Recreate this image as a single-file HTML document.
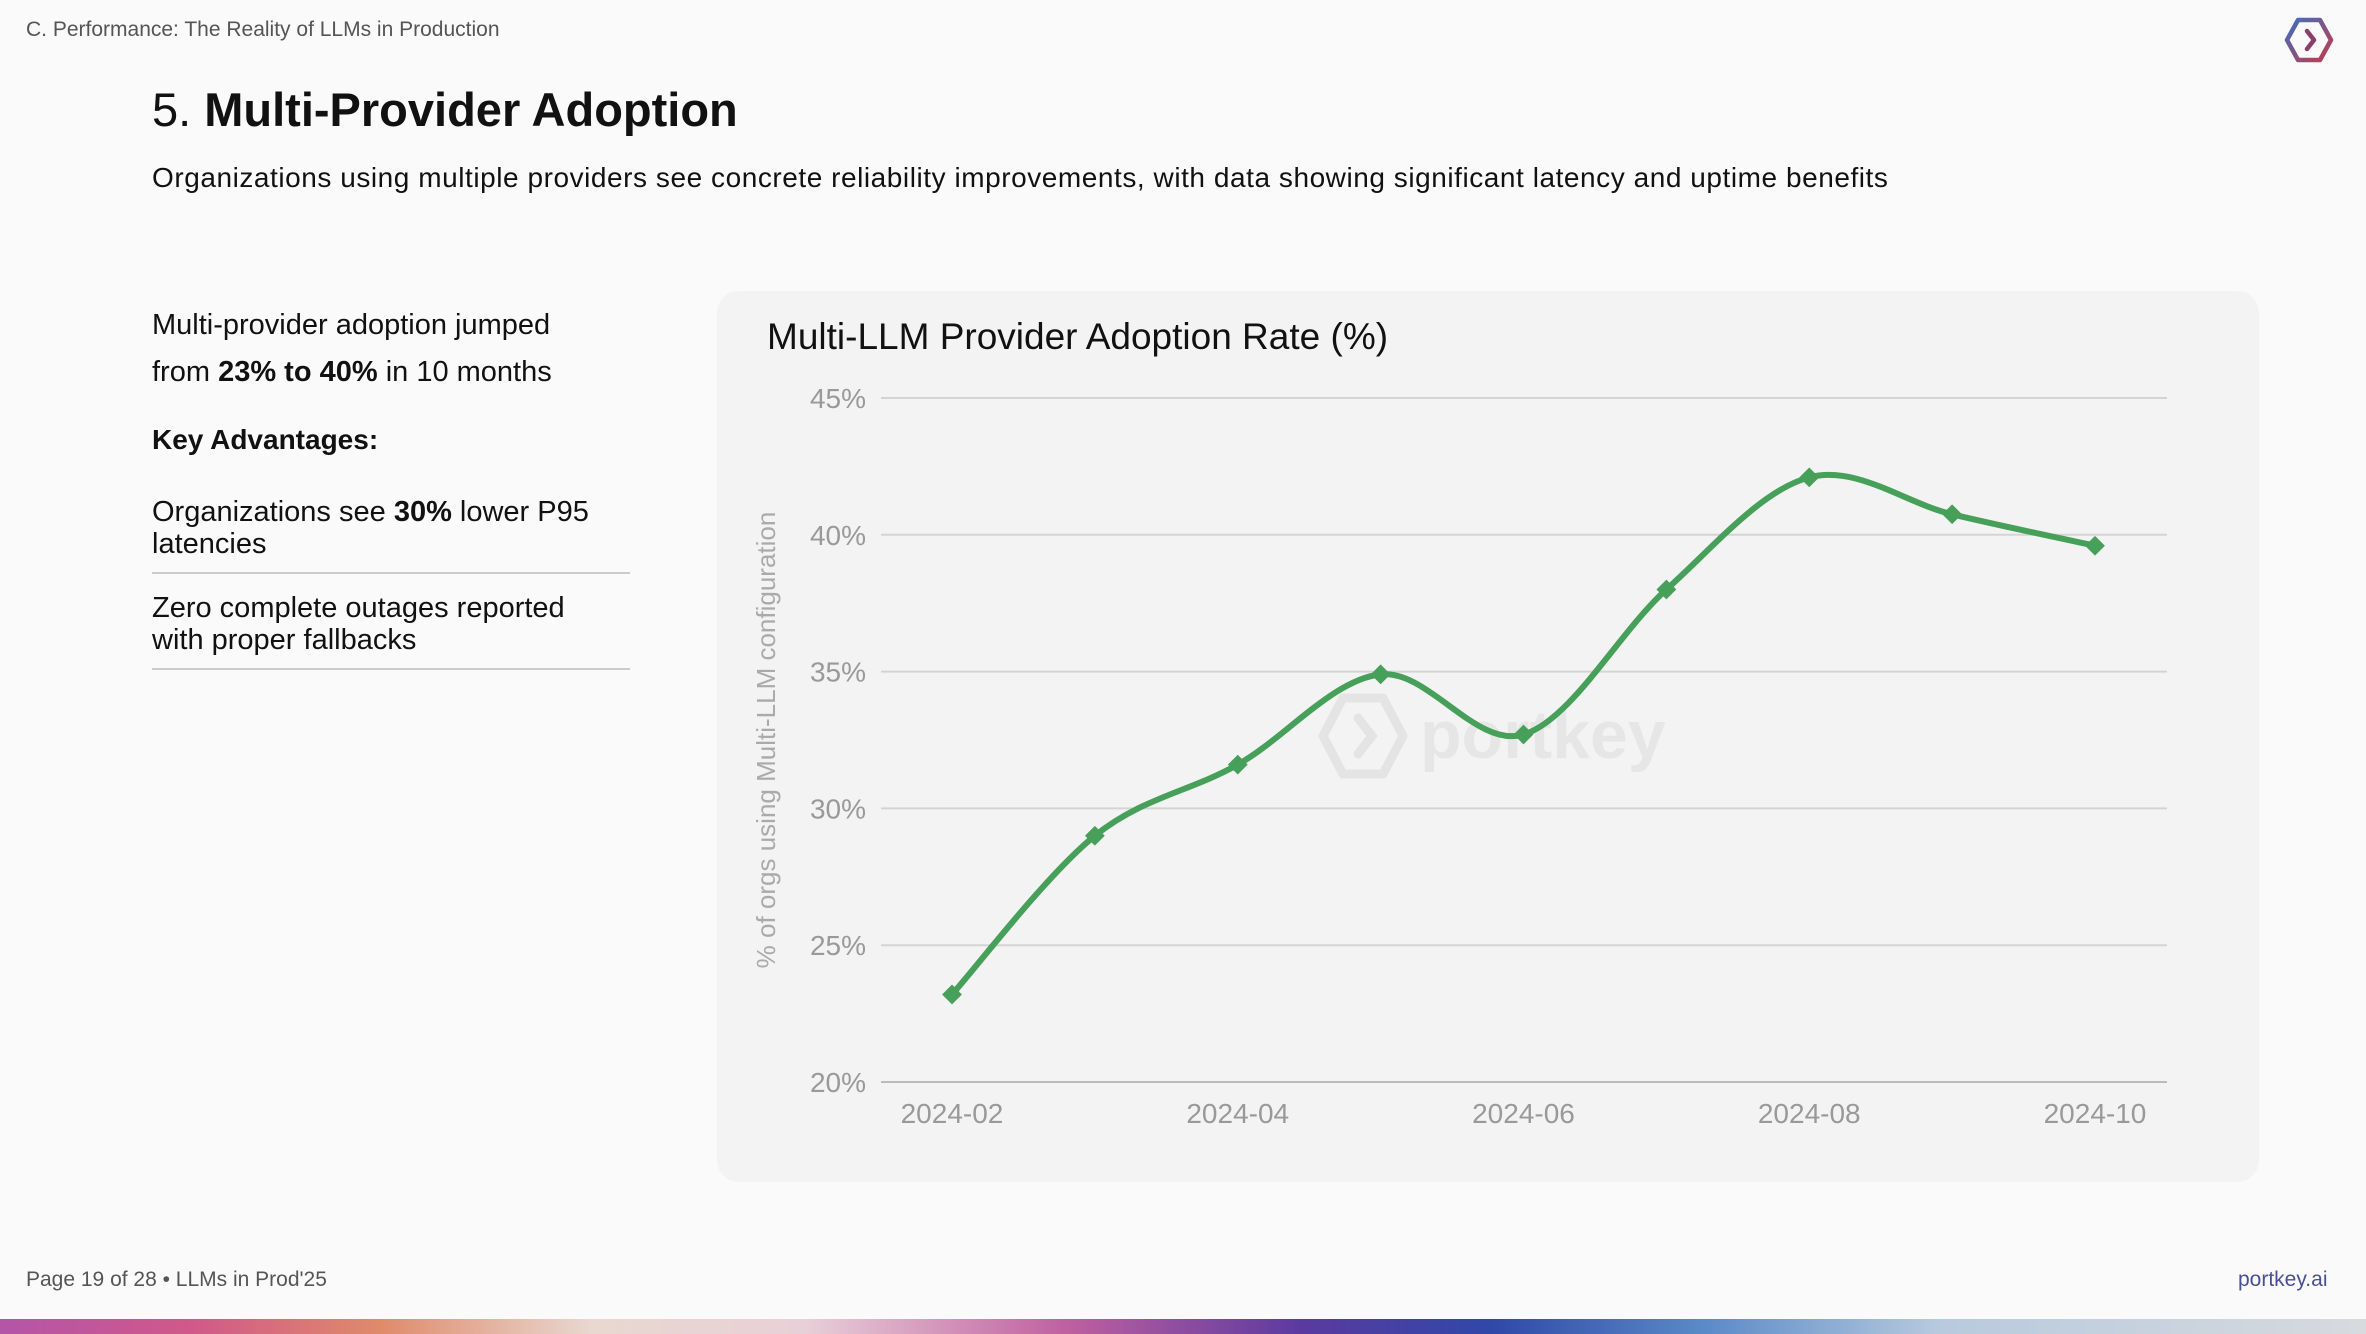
<!DOCTYPE html>
<html><head><meta charset="utf-8"><style>
body{margin:0;width:2366px;height:1334px;background:#fafafa;font-family:"Liberation Sans",sans-serif;position:relative;overflow:hidden;color:#111}
.abs{position:absolute}
</style></head><body>
<div class="abs" style="left:26px;top:18px;font-size:21px;color:#555">C. Performance: The Reality of LLMs in Production</div>
<svg class="abs" style="left:2284px;top:16px" width="50" height="50" viewBox="0 0 50 50">
<defs><linearGradient id="lg" x1="0" y1="0" x2="1" y2="1"><stop offset="0" stop-color="#3f6fbf"/><stop offset="1" stop-color="#c33a4a"/></linearGradient></defs>
<polygon points="14,4 36,4 47,24 36,44 14,44 3,24" fill="none" stroke="url(#lg)" stroke-width="4.5" stroke-linejoin="round"/>
<polyline points="23,15 30,24 23,33" fill="none" stroke="#8a3f6a" stroke-width="4.5" stroke-linecap="round" stroke-linejoin="round"/></svg>
<div class="abs" style="left:152px;top:82px;font-size:47px">5. <b>Multi-Provider Adoption</b></div>
<div class="abs" style="left:152px;top:162px;font-size:28px;letter-spacing:0.55px">Organizations using multiple providers see concrete reliability improvements, with data showing significant latency and uptime benefits</div>
<div class="abs" style="left:152px;top:302px;font-size:29px;line-height:47px">Multi-provider adoption jumped<br>from <b>23% to 40%</b> in 10 months</div>
<div class="abs" style="left:152px;top:424px;font-size:28px;font-weight:bold">Key Advantages:</div>
<div class="abs" style="left:152px;top:496px;width:478px;font-size:29px;line-height:32px;padding-bottom:12px;border-bottom:2px solid #ccc">Organizations see <b>30%</b> lower P95 latencies</div>
<div class="abs" style="left:152px;top:592px;width:478px;font-size:29px;line-height:32px;padding-bottom:12px;border-bottom:2px solid #ccc">Zero complete outages reported<br>with proper fallbacks</div>
<div class="abs" style="left:717px;top:291px;width:1542px;height:891px;background:#f3f3f3;border-radius:22px"></div>
<div class="abs" style="left:767px;top:316px;font-size:37px">Multi-LLM Provider Adoption Rate (%)</div>
<svg class="abs" id="chart" style="left:0;top:0" width="2366" height="1334"></svg>
<div class="abs" style="left:26px;top:1268px;font-size:21px;color:#555">Page 19 of 28 • LLMs in Prod'25</div>
<div class="abs" style="left:2238px;top:1268px;font-size:21px;color:#4a4f9a">portkey.ai</div>
<div class="abs" style="left:0;top:1319px;width:2366px;height:15px;background:linear-gradient(90deg,#b455a8 0%,#d0588a 8%,#e08a6a 16%,#e8d8d0 25%,#e8d0d8 34%,#c060a0 45%,#5a3aa0 55%,#3048a8 63%,#5a8ac8 72%,#b8cade 82%,#d8dade 100%)"></div>
<script>
const categories=["2024-02","2024-03","2024-04","2024-05","2024-06","2024-07","2024-08","2024-09","2024-10"];
const values=[23.2,29.0,31.6,34.9,32.7,38.0,42.1,40.75,39.6];
const yTicks=[20,25,30,35,40,45];
const xTickLabels=["2024-02","2024-04","2024-06","2024-08","2024-10"];
const NS="http://www.w3.org/2000/svg";
const svg=document.getElementById('chart');
const X0=952,X1=2095,YB=1082,YT=398,PL=881,PR=2167;
const x=i=>X0+(X1-X0)*i/(categories.length-1);
const y=v=>YB-(v-20)/25*(YB-YT);
function mk(t,a){const e=document.createElementNS(NS,t);for(const k in a)e.setAttribute(k,a[k]);svg.appendChild(e);return e;}
yTicks.forEach(t=>{
 const l=mk('line',{x1:PL,x2:PR,y1:y(t),y2:y(t),stroke:t===20?'#bbb':'#d4d4d4','stroke-width':2});
 
 
 const tx=mk('text',{x:866,y:y(t)+10,'text-anchor':'end','font-size':28,fill:'#999','font-family':'Liberation Sans, sans-serif'});
 tx.textContent=t+'%';
 
 
});
xTickLabels.forEach(c=>{
 const i=categories.indexOf(c);
 const tx=mk('text',{x:x(i),y:1123,'text-anchor':'middle','font-size':28,fill:'#999','font-family':'Liberation Sans, sans-serif'});
 tx.textContent=c;
 
 
});
const yt=mk('text',{x:0,y:0,transform:'translate(775,740) rotate(-90)','text-anchor':'middle','font-size':26,fill:'#aaa','font-family':'Liberation Sans, sans-serif'});
yt.textContent='% of orgs using Multi-LLM configuration';


const wl=mk('polygon',{points:'1343,698 1383,698 1403,736 1383,774 1343,774 1323,736',fill:'none',stroke:'#e4e4e4','stroke-width':9,'stroke-linejoin':'round'});


const wc=mk('polyline',{points:'1358,718 1372,736 1358,754',fill:'none',stroke:'#e4e4e4','stroke-width':9,'stroke-linecap':'round'});


const wm=mk('text',{x:1420,y:758,'font-size':68,fill:'#e6e6e6','font-weight':'bold','font-family':'Liberation Sans, sans-serif'});
wm.textContent='portkey';


const pts=values.map((v,i)=>[x(i),y(v)]);
let d=`M${pts[0][0]},${pts[0][1]}`;
for(let i=0;i<pts.length-1;i++){
 const p0=pts[Math.max(0,i-1)],p1=pts[i],p2=pts[i+1],p3=pts[Math.min(pts.length-1,i+2)];
 const c1=[p1[0]+(p2[0]-p0[0])/6,p1[1]+(p2[1]-p0[1])/6],c2=[p2[0]-(p3[0]-p1[0])/6,p2[1]-(p3[1]-p1[1])/6];
 d+=` C${c1[0]},${c1[1]} ${c2[0]},${c2[1]} ${p2[0]},${p2[1]}`;
}
const line=mk('path',{d:d,fill:'none',stroke:'#46a05a','stroke-width':6,'stroke-linecap':'round'});


pts.forEach(p=>{
 const m=mk('rect',{x:p[0]-7,y:p[1]-7,width:14,height:14,fill:'#46a05a',transform:`rotate(45 ${p[0]} ${p[1]})`});
 
 
});
</script>
</body></html>
